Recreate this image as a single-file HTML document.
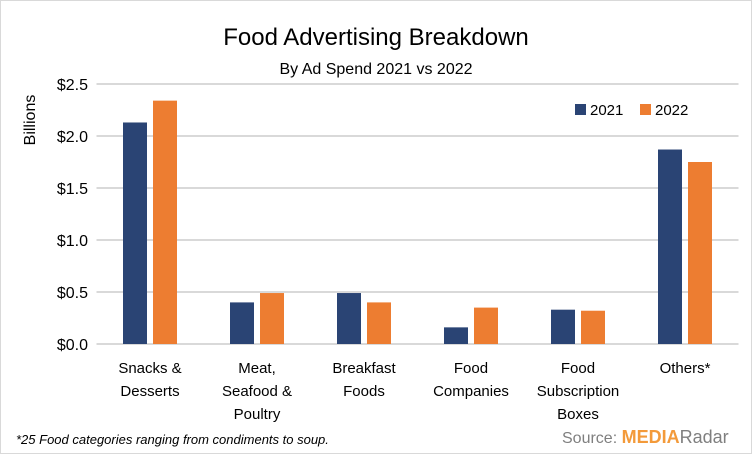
<!DOCTYPE html>
<html><head><meta charset="utf-8"><style>
body{margin:0;background:#fff}
svg text{font-family:"Liberation Sans",sans-serif}
</style></head><body>
<svg width="752" height="454" xmlns="http://www.w3.org/2000/svg" id="chart">
<rect x="0.5" y="0.5" width="751" height="453" fill="#fff" stroke="#d9d9d9"/>
<text x="376" y="45" text-anchor="middle" font-size="24" fill="#000">Food Advertising Breakdown</text>
<text x="376" y="74" text-anchor="middle" font-size="16" fill="#000">By Ad Spend 2021 vs 2022</text>
<text transform="translate(35,120) rotate(-90)" text-anchor="middle" font-size="16" fill="#000">Billions</text>
<g id="grid"></g><g id="bars"></g><g id="ylabels"></g><g id="xlabels"></g>
<rect x="575" y="104" width="11" height="11" fill="#2a4474"/>
<text x="590" y="115" font-size="15">2021</text>
<rect x="640" y="104" width="11" height="11" fill="#ed7d31"/>
<text x="655" y="115" font-size="15">2022</text>
<text x="16" y="444" font-size="13" font-style="italic">*25 Food categories ranging from condiments to soup.</text>
<text x="562" y="443" font-size="16" fill="#7f7f7f">Source: <tspan fill="#f39a3a" font-weight="bold" font-size="18">MEDIA</tspan><tspan fill="#7f7f7f" font-size="18">Radar</tspan></text>
</svg>
<script>
const categories=[["Snacks &","Desserts"],["Meat,","Seafood &","Poultry"],["Breakfast","Foods"],["Food","Companies"],["Food","Subscription","Boxes"],["Others*"]];
const values2021=[2.13,0.40,0.49,0.16,0.33,1.87];
const values2022=[2.34,0.49,0.40,0.35,0.32,1.75];
const yTicks=[0,0.5,1.0,1.5,2.0,2.5];
const NS="http://www.w3.org/2000/svg";
const x0=96.5,x1=738.5,yBase=344,yTop=84,yMax=2.5;
const yS=v=>yBase-(v/yMax)*(yBase-yTop);
const step=(x1-x0)/categories.length;
const xC=i=>x0+step*(i+0.5);
function mk(t,a,p){const e=document.createElementNS(NS,t);for(const k in a)e.setAttribute(k,a[k]);document.getElementById(p).appendChild(e);return e;}
yTicks.forEach((t,i)=>{
 const l=mk('line',{x1:x0,x2:x1,y1:yS(t),y2:yS(t),stroke:'#d9d9d9','stroke-width':2},'grid');
 
 
 const tx=mk('text',{x:88,y:yS(t)+6,'text-anchor':'end','font-size':16},'ylabels');
 tx.textContent='$'+t.toFixed(1);
 
 
});
const bw=24,gap=6;
categories.forEach((c,i)=>{
 const cx=xC(i);
 const b1=mk('rect',{x:cx-gap/2-bw,y:yS(values2021[i]),width:bw,height:yBase-yS(values2021[i]),fill:'#2a4474'},'bars');
 
 
 const b2=mk('rect',{x:cx+gap/2,y:yS(values2022[i]),width:bw,height:yBase-yS(values2022[i]),fill:'#ed7d31'},'bars');
 
 
 c.forEach((ln,j)=>{
  const t=mk('text',{x:cx,y:373+j*23,'text-anchor':'middle','font-size':15},'xlabels');
  t.textContent=ln;
  
  
 });
});
</script>
</body></html>
